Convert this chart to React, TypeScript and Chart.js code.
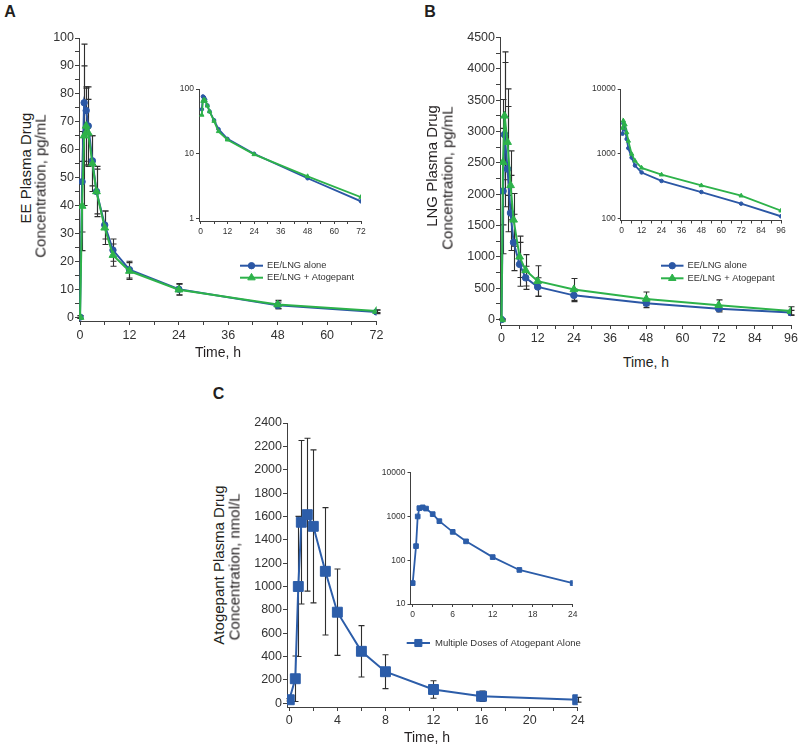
import React, { useEffect, useRef } from 'react';
import { Chart, registerables } from 'chart.js';
import { drawPoint } from 'chart.js/helpers';

Chart.register(...registerables);

const FONT = '"Liberation Sans", Arial, Helvetica, sans-serif';
const BLUE = '#2B57A5';
const GREEN = '#2DB24A';
const CBLUE = '#2C5DA9';
const ERR = '#2e2e2e';
const AXIS = '#404040';
const TICKC = '#333333';

// ---------- Panel A: EE ----------
const eeTimes = [0, 0.5, 1, 1.5, 2, 3, 4, 6, 8, 12, 24, 48, 72];
const eeAlone = [0, 48.5, 76.8, 74, 68.5, 56, 45, 33, 24, 17, 10, 4.2, 1.85];
const eeAloneSD = [0.5, 18, 21, 8, 14, 9, 8, 5, 4, 3, 2, 1.2, 0.6];
const eeCombo = [0, 39.8, 65, 68.5, 66, 55, 45, 32, 22.2, 16.5, 9.8, 4.5, 2.15];
const eeComboSD = [0.5, 16, 25, 14, 12, 10, 9, 6, 4, 3, 2, 1.5, 0.5];
const eeXLabels = [0, 12, 24, 36, 48, 60, 72];
const eeYLabels = [0, 10, 20, 30, 40, 50, 60, 70, 80, 90, 100];
const eeLogLabels = [1, 10, 100];

// ---------- Panel B: LNG ----------
const lngTimes = [0, 0.5, 1, 2, 3, 4, 6, 8, 12, 24, 48, 72, 96];
const lngAlone = [0, 2050, 2950, 2400, 1700, 1230, 880, 665, 520, 385, 260, 172, 110];
const lngAloneSD = [10, 1000, 1150, 1000, 600, 450, 350, 185, 145, 100, 70, 50, 35];
const lngCombo = [0, 2510, 3250, 2830, 2140, 1590, 1000, 785, 612, 480, 328, 228, 134];
const lngComboSD = [10, 1000, 1020, 850, 550, 420, 330, 250, 245, 175, 110, 85, 70];
const lngXLabels = [0, 12, 24, 36, 48, 60, 72, 84, 96];
const lngYLabels = [0, 500, 1000, 1500, 2000, 2500, 3000, 3500, 4000, 4500];
const lngLogLabels = [100, 1000, 10000];

// ---------- Panel C: Atogepant ----------
const atoTimes = [0, 0.5, 0.75, 1, 1.5, 2, 3, 4, 6, 8, 12, 16, 24];
const atoConc = [30, 210, 1000, 1550, 1615, 1515, 1130, 780, 445, 270, 118, 60, 30];
const atoSD = [10, 195, 600, 700, 655, 655, 545, 370, 220, 145, 75, 45, 20];
const atoXLabels = [0, 4, 8, 12, 16, 20, 24];
const atoYLabels = [0, 200, 400, 600, 800, 1000, 1200, 1400, 1600, 1800, 2000, 2200, 2400];
const atoInsetXLabels = [0, 6, 12, 18, 24];
const atoLogLabels = [10, 100, 1000, 10000];

function makeTicks(labels: number[], minor: boolean) {
  if (!minor) return labels.slice();
  const out: number[] = [];
  labels.forEach((v, i) => {
    out.push(v);
    if (i < labels.length - 1) out.push((v + labels[i + 1]) / 2);
  });
  return out;
}

const errorBarPlugin = {
  id: 'errbars',
  beforeDatasetsDraw(chart: any) {
    const ctx = chart.ctx;
    const ys = chart.scales.y;
    chart.data.datasets.forEach((ds: any, di: number) => {
      if (!ds.sd) return;
      const meta = chart.getDatasetMeta(di);
      ctx.save();
      ctx.strokeStyle = ERR;
      ctx.lineWidth = 1.1;
      meta.data.forEach((pt: any, i: number) => {
        const v = ds.data[i].y;
        const e = ds.sd[i];
        if (v == null || !e) return;
        const x = Math.round(pt.x) + 0.5;
        const y1 = ys.getPixelForValue(v - e);
        const y2 = ys.getPixelForValue(v + e);
        ctx.beginPath();
        ctx.moveTo(x, y1);
        ctx.lineTo(x, y2);
        ctx.moveTo(x - 3, y1);
        ctx.lineTo(x + 3, y1);
        ctx.moveTo(x - 3, y2);
        ctx.lineTo(x + 3, y2);
        ctx.stroke();
      });
      ctx.restore();
    });
  },
};

const legendPlugin = {
  id: 'miniLegend',
  afterDraw(chart: any, _args: any, opts: any) {
    if (!opts || !opts.items) return;
    const ctx = chart.ctx;
    opts.items.forEach((it: any, i: number) => {
      const y = opts.y + i * opts.gap;
      ctx.save();
      ctx.strokeStyle = it.color;
      ctx.fillStyle = it.color;
      ctx.lineWidth = it.width;
      ctx.beginPath();
      ctx.moveTo(opts.x, y);
      ctx.lineTo(opts.x + opts.len, y);
      ctx.stroke();
      ctx.lineWidth = 1;
      drawPoint(ctx, { pointStyle: it.style, radius: it.radius, borderWidth: 1, rotation: 0 } as any, opts.x + opts.len / 2, y);
      ctx.fillStyle = TICKC;
      ctx.font = `${opts.size}px ${FONT}`;
      ctx.textBaseline = 'middle';
      ctx.textAlign = 'left';
      ctx.fillText(it.label, opts.x + opts.len + opts.textGap, y);
      ctx.restore();
    });
  },
};

type Series = { label: string; xs: number[]; ys: number[]; sd?: number[]; color: string; style: string; radius: number; width: number; order: number };

type Panel = {
  key: string;
  box: number[];
  area: number[];
  log: boolean;
  x: { min: number; max: number; labels: number[]; minor: boolean };
  y: { min: number; max: number; labels: number[]; minor: boolean };
  font: number;
  tickLen: number;
  xPad: number;
  yPad: number;
  series: Series[];
  legend?: any;
};

const panels: Panel[] = [
  {
    key: 'aMain', box: [40, 20, 352, 325], area: [79, 38, 376.5, 321], log: false,
    x: { min: -0.25, max: 72, labels: eeXLabels, minor: true },
    y: { min: -1.4, max: 100, labels: eeYLabels, minor: true },
    font: 12.5, tickLen: 4, xPad: 3.5, yPad: 1,
    series: [
      { label: 'EE/LNG alone', xs: eeTimes, ys: eeAlone, sd: eeAloneSD, color: BLUE, style: 'circle', radius: 3.2, width: 2, order: 1 },
      { label: 'EE/LNG + Atogepant', xs: eeTimes, ys: eeCombo, sd: eeComboSD, color: GREEN, style: 'triangle', radius: 4.5, width: 2, order: 0 },
    ],
    legend: { x: 200, y: 245.7, gap: 12, len: 23, textGap: 4, size: 9.3 },
  },
  {
    key: 'aInset', box: [165, 75, 210, 165], area: [199, 89, 361, 221], log: true,
    x: { min: -0.76, max: 72, labels: eeXLabels, minor: true },
    y: { min: 0.92, max: 100, labels: eeLogLabels, minor: false },
    font: 8.5, tickLen: 3, xPad: 2.5, yPad: 2,
    series: [
      { label: 'EE/LNG alone', xs: eeTimes, ys: eeAlone, color: BLUE, style: 'circle', radius: 1.8, width: 1.8, order: 1 },
      { label: 'EE/LNG + Atogepant', xs: eeTimes, ys: eeCombo, color: GREEN, style: 'triangle', radius: 2.5, width: 1.8, order: 0 },
    ],
  },
  {
    key: 'bMain', box: [455, 20, 345, 330], area: [500, 37.5, 793, 325], log: false,
    x: { min: -0.5, max: 96, labels: lngXLabels, minor: true },
    y: { min: -88, max: 4500, labels: lngYLabels, minor: true },
    font: 12.5, tickLen: 4, xPad: 2, yPad: 1,
    series: [
      { label: 'EE/LNG alone', xs: lngTimes, ys: lngAlone, sd: lngAloneSD, color: BLUE, style: 'circle', radius: 3.3, width: 2, order: 1 },
      { label: 'EE/LNG + Atogepant', xs: lngTimes, ys: lngCombo, sd: lngComboSD, color: GREEN, style: 'triangle', radius: 4.5, width: 2, order: 0 },
    ],
    legend: { x: 206, y: 245.7, gap: 12.6, len: 22.5, textGap: 4, size: 9.3 },
  },
  {
    key: 'bInset', box: [585, 75, 210, 165], area: [620.7, 89, 781, 220.5], log: true,
    x: { min: -0.6, max: 96, labels: lngXLabels, minor: true },
    y: { min: 94.8, max: 10000, labels: lngLogLabels, minor: false },
    font: 8.5, tickLen: 3, xPad: 2.5, yPad: 2,
    series: [
      { label: 'EE/LNG alone', xs: lngTimes, ys: lngAlone, color: BLUE, style: 'circle', radius: 1.8, width: 1.8, order: 1 },
      { label: 'EE/LNG + Atogepant', xs: lngTimes, ys: lngCombo, color: GREEN, style: 'triangle', radius: 2.5, width: 1.8, order: 0 },
    ],
  },
  {
    key: 'cMain', box: [240, 405, 350, 325], area: [287, 423, 577.7, 707], log: false,
    x: { min: -0.19, max: 24, labels: atoXLabels, minor: true },
    y: { min: -32, max: 2400, labels: atoYLabels, minor: false },
    font: 12.5, tickLen: 4, xPad: 2.2, yPad: 1,
    series: [
      { label: 'Multiple Doses of Atogepant Alone', xs: atoTimes, ys: atoConc, sd: atoSD, color: CBLUE, style: 'rect', radius: 7, width: 2, order: 0 },
    ],
    legend: { x: 166.7, y: 238, gap: 12, len: 23.3, textGap: 5, size: 9.5 },
  },
  {
    key: 'cInset', box: [372, 460, 210, 165], area: [410.5, 472.7, 572.7, 604], log: true,
    x: { min: -0.33, max: 24, labels: atoInsetXLabels, minor: true },
    y: { min: 10, max: 10000, labels: atoLogLabels, minor: false },
    font: 8.5, tickLen: 3, xPad: 2.9, yPad: 2,
    series: [
      { label: 'Multiple Doses of Atogepant Alone', xs: atoTimes, ys: atoConc, color: CBLUE, style: 'rect', radius: 3.3, width: 1.8, order: 0 },
    ],
  },
];

function axisCommon(p: Panel, labels: number[], ticks: number[], pad: number) {
  return {
    afterBuildTicks: (s: any) => {
      s.ticks = ticks.map((v) => ({ value: v }));
    },
    ticks: {
      autoSkip: false,
      maxRotation: 0,
      minRotation: 0,
      padding: pad,
      color: TICKC,
      font: { family: FONT, size: p.font },
      callback: (v: any) => (labels.includes(Number(v)) ? String(v) : ''),
    },
    grid: { display: true, drawOnChartArea: false, drawTicks: true, tickLength: p.tickLen, color: AXIS, lineWidth: 1 },
    border: { display: true, color: AXIS, width: 1 },
  };
}

function buildConfig(p: Panel): any {
  const [bl, bt, bw, bh] = p.box;
  const [al, at, ar, ab] = p.area;
  const yWidth = al - bl;
  const xHeight = bt + bh - ab;
  const datasets = p.series.map((s) => ({
    label: s.label,
    data: s.xs.map((x, i) => ({ x, y: p.log && s.ys[i] <= 0 ? null : s.ys[i] })),
    sd: p.log ? undefined : s.sd,
    borderColor: s.color,
    backgroundColor: s.color,
    pointBackgroundColor: s.color,
    pointBorderColor: s.color,
    pointStyle: s.style,
    pointRadius: s.radius,
    pointBorderWidth: 1,
    borderWidth: s.width,
    tension: 0,
    order: s.order,
  }));
  const xTicks = makeTicks(p.x.labels, p.x.minor);
  const yTicks = makeTicks(p.y.labels, p.y.minor);
  return {
    type: 'line',
    data: { datasets },
    plugins: [errorBarPlugin, legendPlugin],
    options: {
      responsive: false,
      animation: false,
      devicePixelRatio: 1,
      events: [],
      layout: { padding: { left: 0, top: at - bt, right: bl + bw - ar, bottom: 0 } },
      plugins: {
        legend: { display: false },
        tooltip: { enabled: false },
        miniLegend: p.legend ? { ...p.legend, items: p.series.map((s) => ({ label: s.label, color: s.color, style: s.style, radius: s.style === 'rect' ? 5 : s.style === 'triangle' ? 4.3 : 3.2, width: 2 })) } : {},
      },
      scales: {
        x: {
          type: 'linear',
          position: 'bottom',
          min: p.x.min,
          max: p.x.max,
          afterFit: (s: any) => {
            s.height = xHeight;
          },
          ...axisCommon(p, p.x.labels, xTicks, p.xPad),
        },
        y: {
          type: p.log ? 'logarithmic' : 'linear',
          position: 'left',
          min: p.y.min,
          max: p.y.max,
          afterFit: (s: any) => {
            s.width = yWidth;
          },
          ...axisCommon(p, p.y.labels, yTicks, p.yPad),
        },
      },
    },
  };
}

function ChartCanvas({ p }: { p: Panel }) {
  const ref = useRef<HTMLCanvasElement | null>(null);
  useEffect(() => {
    const chart = new Chart(ref.current as HTMLCanvasElement, buildConfig(p));
    return () => chart.destroy();
  }, [p]);
  return (
    <canvas
      ref={ref}
      width={p.box[2]}
      height={p.box[3]}
      style={{ position: 'absolute', left: p.box[0], top: p.box[1], width: p.box[2], height: p.box[3] }}
    />
  );
}

const texts = [
  { text: 'A', x: 10, y: 12, size: 16, bold: true, rot: false },
  { text: 'B', x: 430, y: 12, size: 16, bold: true, rot: false },
  { text: 'C', x: 218.5, y: 393.5, size: 16, bold: true, rot: false },
  { text: 'EE Plasma Drug', x: 24.5, y: 168, size: 15, bold: false, rot: true },
  { text: 'Concentration, pg/mL', x: 40, y: 186, size: 15, bold: false, rot: true },
  { text: 'Time, h', x: 218, y: 352, size: 14, bold: false, rot: false },
  { text: 'LNG Plasma Drug', x: 430.5, y: 166, size: 15, bold: false, rot: true },
  { text: 'Concentration, pg/mL', x: 446.5, y: 178, size: 15, bold: false, rot: true },
  { text: 'Time, h', x: 646, y: 362, size: 14, bold: false, rot: false },
  { text: 'Atogepant Plasma Drug', x: 218, y: 565, size: 15, bold: false, rot: true },
  { text: 'Concentration, nmol/L', x: 234, y: 567, size: 15, bold: false, rot: true },
  { text: 'Time, h', x: 427, y: 737, size: 14, bold: false, rot: false },
];

export default function App() {
  return (
    <div style={{ position: 'absolute', left: 0, top: 0, width: 800, height: 746, background: '#ffffff', overflow: 'hidden', fontFamily: FONT, color: '#231f20' }}>
      {panels.map((p) => (
        <ChartCanvas key={p.key} p={p} />
      ))}
      {texts.map((t, i) => (
        <div
          key={i}
          style={{
            position: 'absolute',
            left: t.x,
            top: t.y,
            fontSize: t.size,
            fontWeight: t.bold ? 700 : 400,
            lineHeight: 1,
            whiteSpace: 'nowrap',
            transform: t.rot ? 'translate(-50%, -50%) rotate(-90deg)' : 'translate(-50%, -50%)',
          }}
        >
          {t.text}
        </div>
      ))}
    </div>
  );
}
